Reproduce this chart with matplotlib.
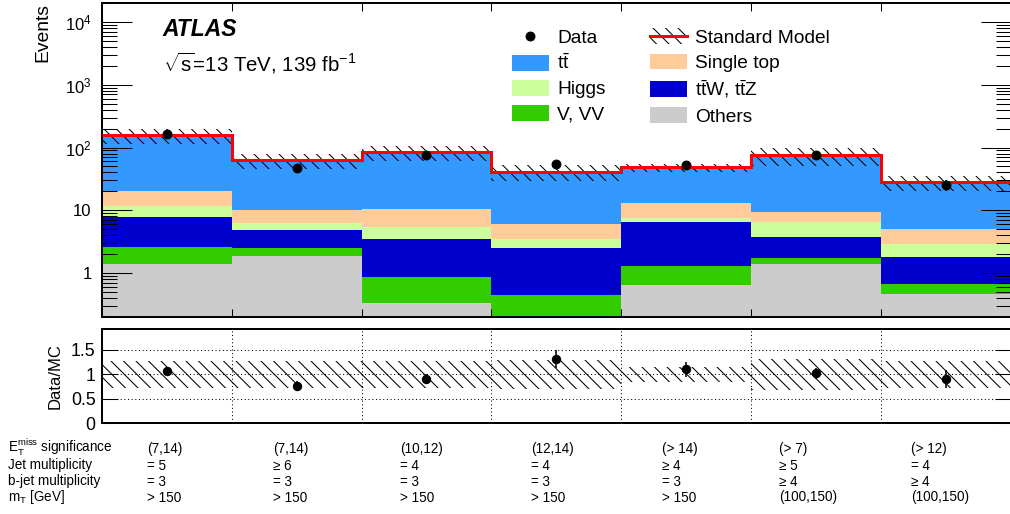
import numpy as np
import matplotlib
matplotlib.use('Agg')
import matplotlib.pyplot as plt
from matplotlib.patches import Patch
from matplotlib.lines import Line2D
from matplotlib.ticker import LogLocator, NullFormatter

# ---------------- data ----------------
others     = [1.41, 1.88, 0.34, 0.15, 0.65, 1.39, 0.46]
v_vv       = [1.20, 0.64, 0.52, 0.30, 0.66, 0.36, 0.21]
ttw_ttz    = [5.29, 2.35, 2.68, 2.10, 5.21, 1.98, 1.16]
higgs      = [3.80, 1.49, 1.83, 0.99, 0.94, 2.86, 1.08]
single_top = [8.50, 3.74, 5.03, 2.52, 5.74, 2.71, 2.07]
ttbar      = [136.8, 52.8, 72.9, 34.9, 35.0, 66.2, 22.8]
data       = [167, 48, 75, 54, 53, 77, 25]
rel_unc    = [0.27, 0.27, 0.27, 0.29, 0.15, 0.32, 0.27]

row_names  = [r'E$_{\mathrm{T}}^{\mathrm{miss}}$ significance', 'Jet multiplicity',
              'b-jet multiplicity', r'm$_{\mathrm{T}}$ [GeV]']
etmiss_sig = ['(7,14)', '(7,14)', '(10,12)', '(12,14)', '(> 14)', '(> 7)', '(> 12)']
jet_mult   = ['= 5', '≥ 6', '= 4', '= 4', '≥ 4', '≥ 5', '= 4']
bjet_mult  = ['= 3', '= 3', '= 3', '= 3', '= 3', '≥ 4', '≥ 4']
mt_vals    = ['> 150', '> 150', '> 150', '> 150', '> 150', '(100,150)', '(100,150)']

# ---------------- style ----------------
plt.rcParams['font.family'] = ['Liberation Sans', 'DejaVu Sans']
plt.rcParams['mathtext.fontset'] = 'custom'
plt.rcParams['mathtext.rm'] = 'Liberation Sans'
plt.rcParams['mathtext.it'] = 'Liberation Sans:italic'
plt.rcParams['mathtext.bf'] = 'Liberation Sans:bold'
plt.rcParams['hatch.linewidth'] = 1.0

HATCH = '\\\\'

W, H, DPI = 1010, 514, 75
fig = plt.figure(figsize=(W / DPI, H / DPI), dpi=DPI)

def fx(px):
    return px / W

def fy(py):
    return 1 - py / H

ax_left, ax_right = 102, 1010.5
ax = fig.add_axes([fx(ax_left), fy(317), fx(ax_right - ax_left), (317 - 3) / H])
ax2 = fig.add_axes([fx(ax_left), fy(423.3), fx(ax_right - ax_left), (423.3 - 329.3) / H])

n = len(data)
edges = np.arange(n + 1)
centers = edges[:-1] + 0.5
comps = [others, v_vv, ttw_ttz, higgs, single_top, ttbar]
colors = ['#cccccc', '#33cc00', '#0000cc', '#ccff99', '#ffcc99', '#3399ff']
names = ['Others', 'V, VV', r't$\bar{\mathrm{t}}$W, t$\bar{\mathrm{t}}$Z', 'Higgs', 'Single top',
         r't$\bar{\mathrm{t}}$']

ax.set_yscale('log')
bottom = np.zeros(n)
for vals, c in zip(comps, colors):
    v = np.array(vals, dtype=float)
    ax.bar(edges[:-1], v, bottom=bottom, width=1.0, align='edge', color=c, lw=0, zorder=1)
    bottom = bottom + v
total = bottom
unc = np.array(rel_unc)
data_arr = np.array(data, dtype=float)

# uncertainty band
ax.bar(edges[:-1], total * 2 * unc, bottom=total * (1 - unc), width=1.0, align='edge',
       fill=False, hatch=HATCH, edgecolor='black', lw=0, zorder=2)
ax.stairs(total, edges, color='red', lw=2.9, zorder=3, baseline=None)
ax.errorbar(centers, data_arr, yerr=np.sqrt(data_arr), fmt='o', color='black', ms=8.5,
            elinewidth=1.5, capsize=0, zorder=4)

ax.set_xlim(0, n)
ax.set_ylim(0.2, 2e4)
ax.set_yticks([1, 10, 100, 1000, 10000], ['1', '10', r'$10^{2}$', r'$10^{3}$', r'$10^{4}$'])
ax.yaxis.set_minor_locator(LogLocator(base=10, subs=np.arange(2, 10), numticks=30))
ax.yaxis.set_minor_formatter(NullFormatter())
ax.set_xticks(edges[1:-1])
ax.tick_params(axis='y', which='major', direction='in', length=28.8, width=1.0,
               left=True, right=True, labelsize=16, pad=10)
ax.tick_params(axis='y', which='minor', direction='in', length=14.4, width=1.0,
               left=True, right=True)
ax.tick_params(axis='x', which='major', direction='in', length=8, width=1.0,
               top=True, bottom=True, labelbottom=False)
ax.tick_params(axis='x', which='minor', top=False, bottom=False)
for s in ax.spines.values():
    s.set_linewidth(1.9)

# legend
h_data = Line2D([0], [0], marker='o', color='black', ls='none', ms=8.5)
h_sm = (Patch(facecolor='none', edgecolor='black', hatch=HATCH, lw=0),
        Line2D([0], [0], color='red', lw=2.9))
patch = {nm: Patch(facecolor=c, lw=0) for nm, c in zip(names, colors)}
handles = [h_data, patch[names[5]], patch['Higgs'], patch['V, VV'],
           h_sm, patch['Single top'], patch[names[2]], patch['Others']]
labels = ['Data', names[5], 'Higgs', 'V, VV', 'Standard Model', 'Single top', names[2], 'Others']
ax.legend(handles, labels, ncol=2, loc='upper left', bbox_to_anchor=(fx(512), fy(28.5)),
          bbox_transform=fig.transFigure, frameon=False, fontsize=18.4, borderpad=0,
          borderaxespad=0, handlelength=1.93, handleheight=0.885, handletextpad=0.42,
          columnspacing=2.3, labelspacing=0.35)

fig.text(fx(162), fy(36), 'ATLAS', weight='bold', style='italic', size=22, va='baseline')
fig.text(fx(163), fy(72), r'$\sqrt{\mathrm{s}}$=13 TeV, 139 fb$^{-1}$', size=19.5,
         va='baseline')
fig.text(fx(43), fy(3), 'Events', rotation=90, ha='center', va='top', size=18.5)

# ratio panel
ax2.bar(edges[:-1], 2 * unc, bottom=1 - unc, width=1.0, align='edge', fill=False,
        hatch=HATCH, edgecolor='black', lw=0, zorder=2)
ratio = data_arr / total
ax2.errorbar(centers, ratio, yerr=np.sqrt(data_arr) / total, fmt='o', color='black', ms=8,
             elinewidth=1.5, capsize=0, zorder=4)
ax2.set_xlim(0, n)
ax2.set_ylim(0, 1.92)
ax2.set_yticks([0, 0.5, 1, 1.5], ['0', '0.5', '1', '1.5'])
ax2.set_xticks(edges[1:-1])
ax2.tick_params(axis='y', which='major', direction='in', length=15.4, width=1.0,
                left=True, right=True, labelsize=17, pad=6)
ax2.tick_params(axis='x', which='major', length=0, labelbottom=False)
ax2.grid(True, color='black', lw=1.0, ls=(0, (1, 2.5)), zorder=1)
ax2.set_axisbelow(True)
for s in ax2.spines.values():
    s.set_linewidth(1.9)
fig.text(fx(55), fy(376), 'Data/MC', rotation=90, ha='center', va='center', size=16)

# bottom description table
row_y = [452.5, 469.5, 485.5, 501.5]
col_x = [146.7, 272.7, 400, 530.7, 662, 779, 910.7]
rows = [etmiss_sig, jet_mult, bjet_mult, mt_vals]
for yb, name, vals in zip(row_y, row_names, rows):
    fig.text(fx(8), fy(yb), name, size=13, va='baseline')
    for xc, v in zip(col_x, vals):
        fig.text(fx(xc), fy(yb), v, size=13, va='baseline')

fig.savefig('out.png', dpi=DPI)
